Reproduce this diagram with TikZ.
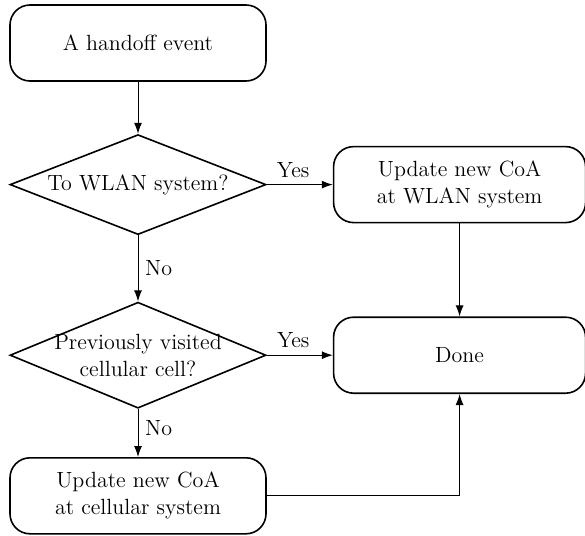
\documentclass[tikz,border=0pt]{standalone}
\usetikzlibrary{positioning, shapes.geometric, arrows.meta}

\tikzset{
  roundbox/.style={rectangle, rounded corners=10pt, draw, line width=0.8pt,
    minimum width=128pt, minimum height=38pt, align=center},
  decision/.style={diamond, draw, line width=0.8pt, inner sep=-6pt, shape aspect=2.5,
    minimum width=128pt, align=center},
  flow/.style={->, line width=0.5pt}
}

\begin{document}
\begin{tikzpicture}[>={Latex[length=5.5pt,width=4pt]},
    every node/.style={font=\fontsize{11}{13.5}\selectfont}]
			\useasboundingbox (0,0) rectangle (292.5pt,-268pt);
			% Define the nodes
			\node (event) [roundbox] at (69pt,-21.5pt) {A handoff event};
			\node (wlanq) [decision, minimum height=50pt, below=26pt of event] {To WLAN system?};
			\node (cellq) [decision, minimum height=53pt, below=33pt of wlanq] {Previously visited\\cellular cell?};
			\node (cellupd) [roundbox, below=24pt of cellq] {Update new CoA\\at cellular system};
			\node (wlanupd) [roundbox, minimum width=126pt, right=33pt of wlanq] {Update new CoA\\at WLAN system};
			\node (done) [roundbox, minimum width=126pt, right=33pt of cellq] {Done};
			% Connect the nodes
			\draw [flow] (event) -- (wlanq);
			\draw [flow] (wlanq) -- node[above, pos=0.4] {Yes} (wlanupd);
			\draw [flow] (wlanq) -- node[right] {No} (cellq);
			\draw [flow] (cellq) -- node[above, pos=0.4] {Yes} (done);
			\draw [flow] (cellq) -- node[right, pos=0.4] {No} (cellupd);
			\draw [flow] (wlanupd) -- (done);
			\draw [flow] (cellupd.east) -| (done.south);
		\end{tikzpicture}
\end{document}
